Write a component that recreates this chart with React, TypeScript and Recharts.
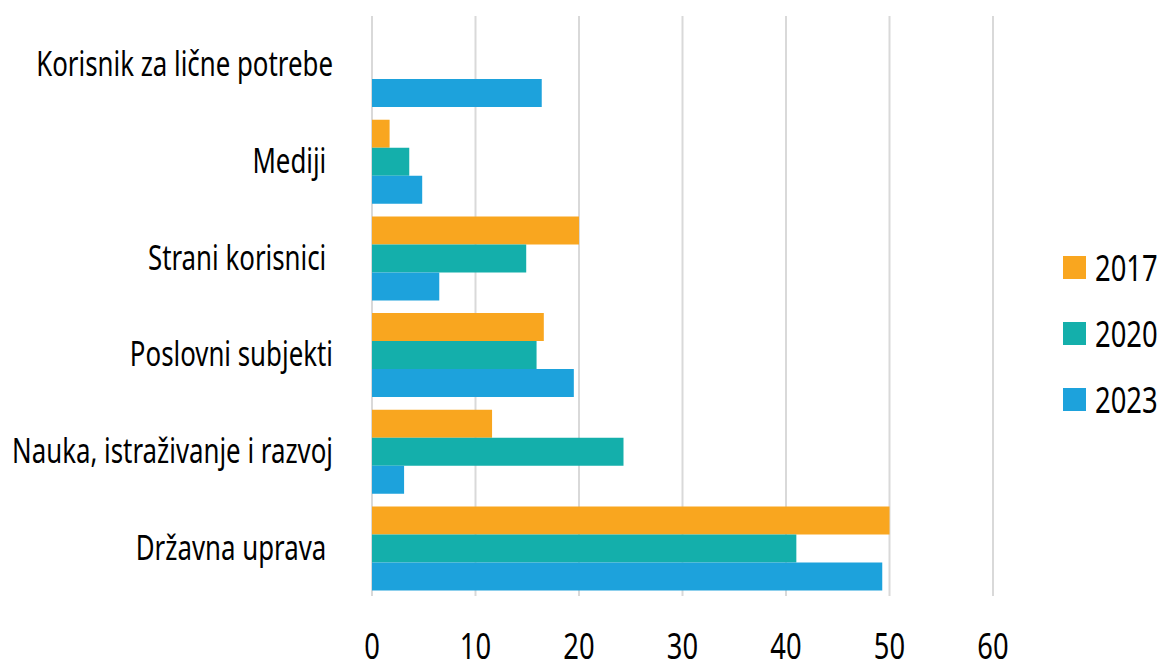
import React from 'react';
import { BarChart, Bar, XAxis, YAxis, CartesianGrid, Legend } from 'recharts';

const categories = [
  'Korisnik za lične potrebe',
  'Mediji ',
  'Strani korisnici ',
  'Poslovni subjekti',
  'Nauka, istraživanje i razvoj',
  'Državna uprava ',
];
const v2017: (number | null)[] = [null, 1.7, 20.0, 16.6, 11.6, 50.0];
const v2020: (number | null)[] = [null, 3.6, 14.9, 15.9, 24.3, 41.0];
const v2023: (number | null)[] = [16.4, 4.85, 6.5, 19.5, 3.1, 49.3];
const xTicks = [0, 10, 20, 30, 40, 50, 60];

const seriesNames = ['2017', '2020', '2023'];
const colors = ['#F9A61F', '#14AFAB', '#1DA2DC'];

const data = categories.map((name, i) => ({
  name,
  '2017': v2017[i],
  '2020': v2020[i],
  '2023': v2023[i],
}));

const FONT = '"Noto Sans", "Open Sans", sans-serif';
const SX = 0.76;

const CatTick = (props: any) => {
  const { x, y, payload } = props;
  return (
    <text
      transform={`translate(${x},${y}) scale(${SX},1)`}
      dy="0.355em"
      textAnchor="end"
      fill="#000"
      fontFamily={FONT}
      fontSize={34}
      style={{ whiteSpace: 'pre' }}
    >
      {payload.value}
    </text>
  );
};

const NumTick = (props: any) => {
  const { x, y, payload } = props;
  return (
    <text
      transform={`translate(${x},${y}) scale(${SX},1)`}
      dy={57}
      textAnchor="middle"
      fill="#000"
      fontFamily={FONT}
      fontSize={36}
    >
      {payload.value}
    </text>
  );
};

const LegendContent = () => (
  <div style={{ width: 159, paddingLeft: 70, paddingTop: 6, boxSizing: 'border-box', fontFamily: FONT }}>
    {seriesNames.map((s, i) => (
      <div key={s} style={{ display: 'flex', alignItems: 'center', height: 66 }}>
        <div style={{ width: 23, height: 23, minWidth: 23, flexShrink: 0, background: colors[i], marginRight: 9 }} />
        <span
          style={{
            fontSize: 36,
            color: '#000',
            lineHeight: '36px',
            display: 'inline-block',
            transform: `scale(${SX},1)`,
            transformOrigin: 'left center',
            whiteSpace: 'nowrap',
          }}
        >
          {s}
        </span>
      </div>
    ))}
  </div>
);

export default function App() {
  return (
    <div style={{ position: 'absolute', left: 0, top: 0, width: 1157, height: 661, background: '#fff' }}>
      <BarChart
        width={1157}
        height={661}
        data={data}
        layout="vertical"
        margin={{ top: 16, right: 5, bottom: 0, left: 0 }}
        barCategoryGap="7.3%"
        barGap={0}
      >
        <CartesianGrid horizontal={false} vertical={true} stroke="#D9D9D9" strokeWidth={2} />
        <XAxis
          type="number"
          domain={[0, 60]}
          ticks={xTicks}
          axisLine={false}
          tickLine={false}
          height={65}
          tickMargin={0}
          tick={<NumTick />}
          interval={0}
        />
        <YAxis
          type="category"
          dataKey="name"
          width={372}
          axisLine={false}
          tickLine={false}
          tickMargin={33}
          tick={<CatTick />}
          interval={0}
        />
        <Legend
          layout="vertical"
          align="right"
          verticalAlign="middle"
          content={<LegendContent />}
        />
        {seriesNames.map((s, i) => (
          <Bar key={s} dataKey={s} fill={colors[i]} isAnimationActive={false} />
        ))}
      </BarChart>
    </div>
  );
}
